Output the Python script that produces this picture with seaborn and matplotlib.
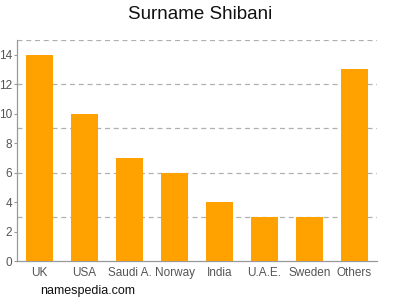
import matplotlib
matplotlib.use("Agg")
import matplotlib.pyplot as plt
import seaborn as sns
import pandas as pd

countries = ["UK", "USA", "Saudi A.", "Norway", "India", "U.A.E.", "Sweden", "Others"]
counts = [14, 10, 7, 6, 4, 3, 3, 13]
ytick_values = [0, 2, 4, 6, 8, 10, 12, 14]
grid_values = [3, 6, 9, 12, 15]

sns.set_theme(style="white")
plt.rcParams['font.family'] = ['Liberation Sans', 'DejaVu Sans']

df = pd.DataFrame({"country": countries, "count": counts})

fig = plt.figure(figsize=(4, 3), dpi=100)
ax = fig.add_axes([0.0425, 0.13, 0.9, 0.7367])

sns.barplot(data=df, x="country", y="count", color="#ffa200", saturation=1,
            width=0.62, ax=ax, zorder=3, linewidth=0)

ax.set_ylim(0, 15)
ax.set_xlim(-0.5, len(countries) - 0.5)
ax.set_yticks(ytick_values)
ax.set_yticklabels([str(v) for v in ytick_values])
for g in grid_values:
    ax.axhline(g, color="#b0b0b0", linestyle=(0, (4, 3)), linewidth=0.9, zorder=1)

ax.set_xlabel("")
ax.set_ylabel("")
for s in ["top", "right"]:
    ax.spines[s].set_visible(False)
for s in ["left", "bottom"]:
    ax.spines[s].set_color("#999999")
    ax.spines[s].set_linewidth(0.9)
ax.tick_params(axis="x", length=0, labelsize=8.5, colors="#555555", pad=4)
ax.tick_params(axis="y", length=2, width=0.8, color="#999999", labelsize=8.5,
               labelcolor="#555555", pad=1.5, left=True)

fig.text(0.5, 0.952, "Surname Shibani", ha="center", va="center", fontsize=13.5, color="#111111")
fig.text(0.1, 0.03, "namespedia.com", ha="left", va="center", fontsize=9, color="#111111")

fig.savefig("out.png", dpi=100)
